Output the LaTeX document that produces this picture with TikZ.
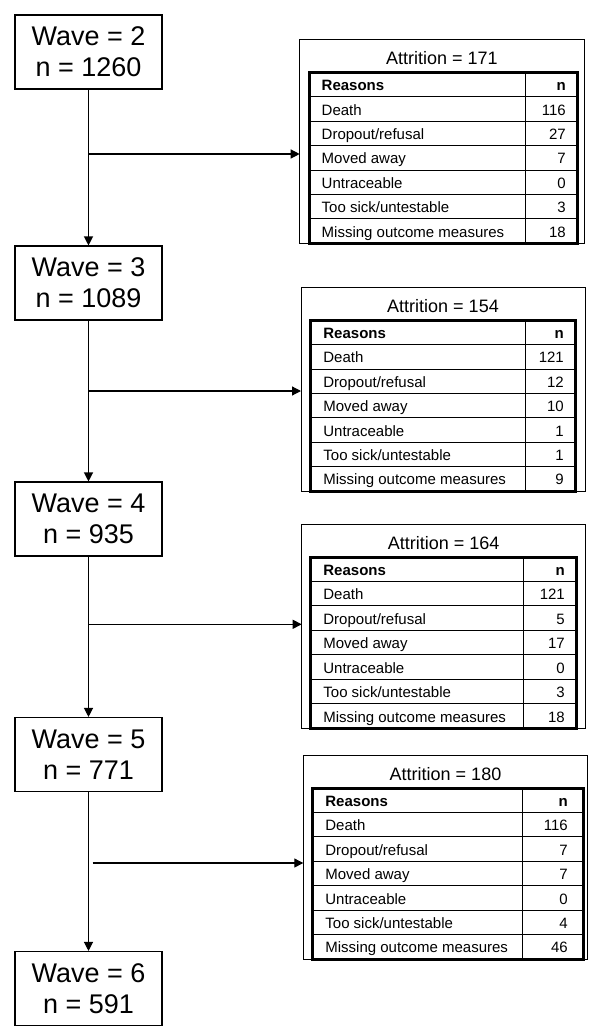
\documentclass[tikz,border=0pt]{standalone}
\usepackage{fontspec}
\setmainfont{Liberation Sans}
\usetikzlibrary{arrows.meta}
\tikzset{
  wavebox/.style={draw, line width=1.1pt, minimum width=147pt, minimum height=74pt, inner sep=0pt, align=center, font=\fontsize{27}{30.6}\selectfont},
  outerbox/.style={draw, line width=0.9pt, inner sep=0pt, outer sep=0pt},
  flow/.style={line width=1.2pt, -{Triangle[length=9pt,width=9pt]}},
  tableframe/.style={line width=3pt},
  gridline/.style={line width=1pt},
  titletext/.style={font=\fontsize{18}{20}\selectfont, inner sep=0pt},
  celltext/.style={font=\fontsize{15}{18}\selectfont, inner sep=0pt}
}
% #1 name, #2 ox1, #3 oy1, #4 ox2, #5 oy2, #6 ix1, #7 ix2, #8 divider x, #9 title
\newcommand\attrbox[9]{%
  \node[outerbox, minimum width={(#4-#2)*1pt}, minimum height={(#5-#3)*1pt}] (#1) at ({(#2+#4)/2},{(#3+#5)/2}) {};
  \pgfmathsetmacro\tIXa{#6}\pgfmathsetmacro\tIXb{#7}\pgfmathsetmacro\tDiv{#8}%
  \pgfmathsetmacro\tIYa{#3+33}\pgfmathsetmacro\tIYb{#5}%
  \pgfmathsetmacro\tRH{(\tIYb-\tIYa)/7}%
  \node[titletext, anchor=base] (#1-title) at ({(#2+#4)/2},{#3+25}) {#9};
  \foreach \k in {1,...,6} {\draw[gridline] (\tIXa,{\tIYa+\k*\tRH}) -- (\tIXb,{\tIYa+\k*\tRH});}
  \draw[gridline] (\tDiv,\tIYa) -- (\tDiv,\tIYb);
  \draw[tableframe] (\tIXa,\tIYa) rectangle (\tIXb,\tIYb);
}
% #1 name, #2 number right x, #3..#8 values
\newcommand\attrrows[8]{%
  \pgfmathsetmacro\tLX{\tIXa+12.5}%
  \node[celltext,anchor=base west] (#1-h) at (\tLX,{\tIYa+18.3}) {\textbf{Reasons}};
  \node[celltext,anchor=base east] (#1-hn) at (#2,{\tIYa+18.3}) {\textbf{n}};
  \node[celltext,anchor=base west] (#1-l1) at (\tLX,{\tIYa+1*\tRH+18.3}) {Death};
  \node[celltext,anchor=base east] (#1-v1) at (#2,{\tIYa+1*\tRH+18.3}) {#3};
  \node[celltext,anchor=base west] (#1-l2) at (\tLX,{\tIYa+2*\tRH+18.3}) {Dropout/refusal};
  \node[celltext,anchor=base east] (#1-v2) at (#2,{\tIYa+2*\tRH+18.3}) {#4};
  \node[celltext,anchor=base west] (#1-l3) at (\tLX,{\tIYa+3*\tRH+18.3}) {Moved away};
  \node[celltext,anchor=base east] (#1-v3) at (#2,{\tIYa+3*\tRH+18.3}) {#5};
  \node[celltext,anchor=base west] (#1-l4) at (\tLX,{\tIYa+4*\tRH+18.3}) {Untraceable};
  \node[celltext,anchor=base east] (#1-v4) at (#2,{\tIYa+4*\tRH+18.3}) {#6};
  \node[celltext,anchor=base west] (#1-l5) at (\tLX,{\tIYa+5*\tRH+18.3}) {Too sick/untestable};
  \node[celltext,anchor=base east] (#1-v5) at (#2,{\tIYa+5*\tRH+18.3}) {#7};
  \node[celltext,anchor=base west] (#1-l6) at (\tLX,{\tIYa+6*\tRH+18.3}) {Missing outcome measures};
  \node[celltext,anchor=base east] (#1-v6) at (#2,{\tIYa+6*\tRH+18.3}) {#8};
}
\begin{document}
\begin{tikzpicture}[x=1pt,y=-1pt]
\useasboundingbox[fill=white] (0,0) rectangle (598,1032);
% wave boxes
\node[wavebox] (w2) at (88.5,52) {Wave = 2\\n = 1260};
\node[wavebox] (w3) at (88.5,283) {Wave = 3\\n = 1089};
\node[wavebox] (w4) at (88.5,519) {Wave = 4\\n = 935};
\node[wavebox] (w5) at (88.5,754.5) {Wave = 5\\n = 771};
\node[wavebox] (w6) at (88.5,988.5) {Wave = 6\\n = 591};
% attrition tables
\attrbox{t1}{299.7}{39.3}{584}{243.3}{309}{577.3}{525.7}{Attrition = 171}
\attrrows{t1}{566}{116}{27}{7}{0}{3}{18}
\attrbox{t2}{301}{287.3}{585}{491}{310.7}{575.7}{525}{Attrition = 154}
\attrrows{t2}{564}{121}{12}{10}{1}{1}{9}
\attrbox{t3}{301.7}{524}{585.7}{728.3}{310.7}{576.7}{523.3}{Attrition = 164}
\attrrows{t3}{565}{121}{5}{17}{0}{3}{18}
\attrbox{t4}{303.3}{755}{587.7}{959}{312.7}{583.7}{522.3}{Attrition = 180}
\attrrows{t4}{568}{116}{7}{7}{0}{4}{46}
% flow connectors
\draw[flow] (w2.south) -- (w3.north);
\draw[flow] (w3.south) -- (w4.north);
\draw[flow] (w4.south) -- (w5.north);
\draw[flow] (w5.south) -- (w6.north);
\coordinate (b1) at (88.5,154);
\coordinate (b2) at (88.5,391);
\coordinate (b3) at (88.5,624.3);
\coordinate (b4) at (92.7,863);
\draw[flow] (b1) -- (b1 -| t1.west);
\draw[flow] (b2) -- (b2 -| t2.west);
\draw[flow] (b3) -- (b3 -| t3.west);
\draw[flow] (b4) -- (b4 -| t4.west);
\end{tikzpicture}
\end{document}
